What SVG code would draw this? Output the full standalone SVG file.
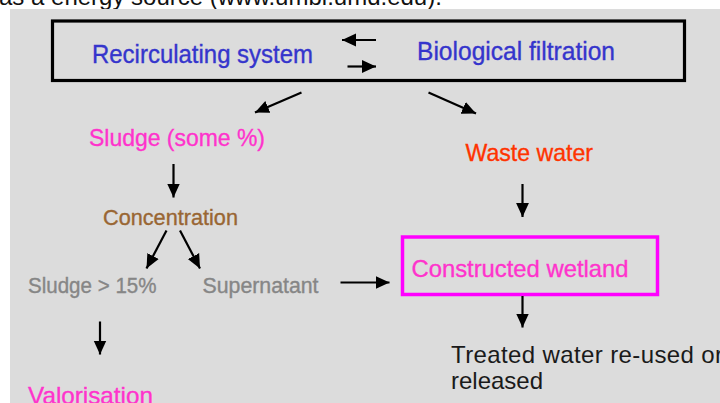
<svg xmlns="http://www.w3.org/2000/svg" width="720" height="403" viewBox="0 0 720 403">
  <style>
    text { font-family: "Liberation Sans", Arial, sans-serif; }
    .lbl { stroke-width: 0.35; }
    .blue { fill: #3535cc; stroke: #3535cc; font-size: 25px; }
    .pink { fill: #ff33cc; stroke: #ff33cc; font-size: 24px; }
    .brown { fill: #996633; stroke: #996633; font-size: 22px; }
    .grey { fill: #868686; stroke: #868686; font-size: 21.5px; }
    .orange { fill: #ff3300; stroke: #ff3300; font-size: 24px; }
    .dark { fill: #1a1a1a; font-size: 24px; }
    .conn { stroke: #000; stroke-width: 2.2; fill: none; marker-end: url(#ah); }
  </style>
  <defs>
    <marker id="ah" markerUnits="userSpaceOnUse" markerWidth="14" markerHeight="14" viewBox="0 0 12 12" refX="12" refY="6" orient="auto">
      <polygon points="0,0.5 12,6 0,11.5" fill="#000"/>
    </marker>
  </defs>
  <rect x="0" y="0" width="720" height="403" fill="#ffffff"/>
  <text x="-1" y="5" style="font-size:24px" fill="#111">as a energy source (www.umbi.umd.edu).</text>
  <rect x="10" y="9" width="710" height="394" fill="#dcdcdc"/>

  <g id="top-box">
    <rect x="52.5" y="21" width="632" height="59.5" fill="none" stroke="#000" stroke-width="3.2"/>
  </g>
  <g id="recirculating">
    <text class="lbl blue" x="92" y="63" textLength="221" lengthAdjust="spacingAndGlyphs">Recirculating system</text>
  </g>
  <g id="biological">
    <text class="lbl blue" x="417" y="60" textLength="198" lengthAdjust="spacingAndGlyphs">Biological filtration</text>
  </g>
  <g id="sludge">
    <text class="lbl pink" x="89" y="145.5" textLength="176" lengthAdjust="spacingAndGlyphs">Sludge (some %)</text>
  </g>
  <g id="waste">
    <text class="lbl orange" x="465.5" y="161" textLength="127.5" lengthAdjust="spacingAndGlyphs">Waste water</text>
  </g>
  <g id="concentration">
    <text class="lbl brown" x="103" y="225" textLength="135" lengthAdjust="spacingAndGlyphs">Concentration</text>
  </g>
  <g id="sludge15">
    <text class="lbl grey" x="28" y="293" textLength="128.5" lengthAdjust="spacingAndGlyphs">Sludge &gt; 15%</text>
  </g>
  <g id="supernatant">
    <text class="lbl grey" x="202.5" y="293" textLength="116" lengthAdjust="spacingAndGlyphs">Supernatant</text>
  </g>
  <g id="wetland">
    <rect x="402.5" y="237" width="255" height="57.5" fill="none" stroke="#ff00ff" stroke-width="3.5"/>
    <text class="lbl pink" x="411.5" y="276.5" textLength="217" lengthAdjust="spacingAndGlyphs">Constructed wetland</text>
  </g>
  <g id="treated">
    <text class="dark" x="451" y="362.5" textLength="272" lengthAdjust="spacing">Treated water re-used or</text>
    <text class="dark" x="451" y="389">released</text>
  </g>
  <g id="valorisation">
    <text class="lbl pink" x="28" y="404" textLength="125" lengthAdjust="spacingAndGlyphs">Valorisation</text>
  </g>

  <g id="connectors">
    <path class="conn" d="M376,40 L342,40"/>
    <path class="conn" d="M347.5,66.5 L376,66.5"/>
    <path class="conn" d="M301.5,92.5 L255,112.5"/>
    <path class="conn" d="M428.5,92.5 L476,113.5"/>
    <path class="conn" d="M173.5,164 L173.5,197.5"/>
    <path class="conn" d="M166.5,230.5 L146.5,268.5"/>
    <path class="conn" d="M180,230.5 L200,268.5"/>
    <path class="conn" d="M522.5,184 L522.5,217"/>
    <path class="conn" d="M340.5,282.5 L389.5,282.5"/>
    <path class="conn" d="M100,321.5 L100,354.5"/>
    <path class="conn" d="M522.5,296 L522.5,327.5"/>
  </g>
</svg>
